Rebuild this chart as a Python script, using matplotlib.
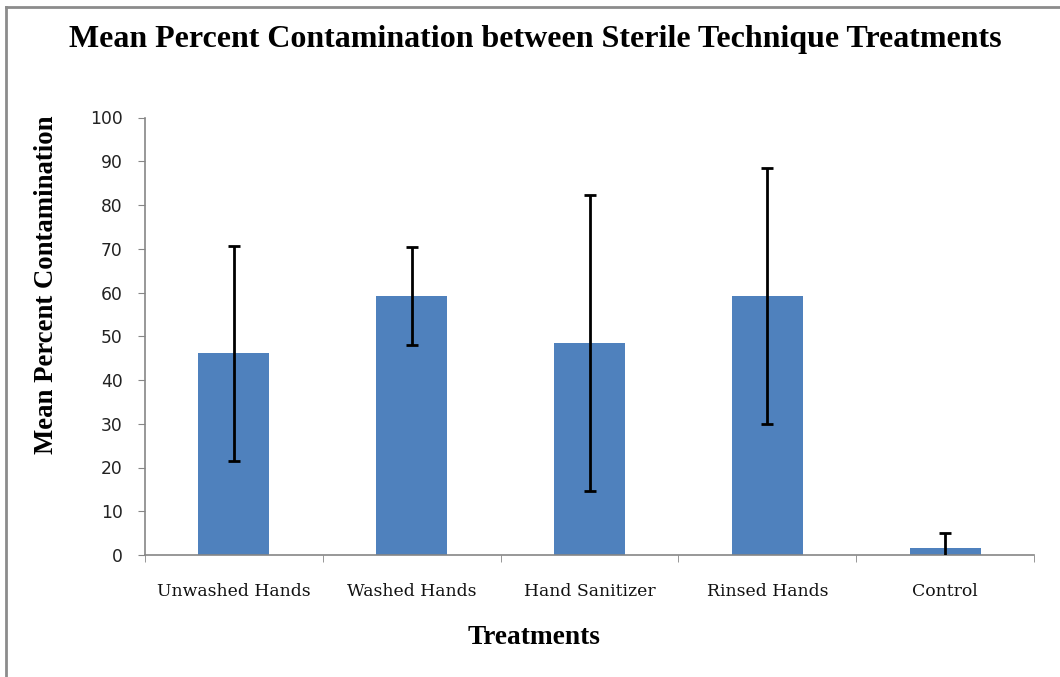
import matplotlib
matplotlib.use("Agg")
from matplotlib import pyplot as plt
from matplotlib.lines import Line2D

# data
treatments = ["Unwashed Hands", "Washed Hands", "Hand Sanitizer", "Rinsed Hands", "Control"]
mean_contam = [46.1, 59.3, 48.5, 59.2, 1.5]
err_contam = [24.6, 11.2, 33.8, 29.2, 3.5]

fig = plt.figure(figsize=(10.6, 6.77), dpi=100)
ax = fig.add_axes([145 / 1060, 122 / 677, 889 / 1060, 437.5 / 677])

pos = list(range(len(treatments)))
ax.bar(pos, mean_contam, width=0.4, color="#4F81BD", zorder=2)
ax.errorbar(pos, mean_contam, yerr=err_contam, fmt="none", ecolor="black",
            elinewidth=2, capsize=4.5, capthick=2, zorder=3)

ax.set_xlim(-0.5, len(treatments) - 0.5)
ax.set_ylim(0, 100)
ax.set_yticks(range(0, 101, 10))
ax.tick_params(axis="y", labelsize=12.3, length=5, color="#868686", pad=11,
               labelcolor="#222222")

# category labels centred, tick marks at category boundaries
ax.set_xticks(pos)
ax.set_xticklabels(treatments, family="DejaVu Serif", fontsize=12.4, color="#111111")
ax.tick_params(axis="x", length=0, pad=20)
ax.set_xticks([p - 0.5 for p in range(len(treatments) + 1)], minor=True)
ax.tick_params(axis="x", which="minor", length=5, color="#868686")

for s in ["top", "right"]:
    ax.spines[s].set_visible(False)
for s in ["left", "bottom"]:
    ax.spines[s].set_color("#868686")
    ax.spines[s].set_linewidth(1.2)

fig.text(47 / 1060, 1 - 285 / 677, "Mean Percent Contamination", family="Liberation Serif",
         fontweight="bold", fontsize=19.3, rotation=90, ha="center", va="center")
fig.text(534 / 1060, 1 - 638 / 677, "Treatments", family="Liberation Serif",
         fontweight="bold", fontsize=19.7, ha="center", va="center")

fig.text(535 / 1060, 1 - 39 / 677, "Mean Percent Contamination between Sterile Technique Treatments",
         family="Liberation Serif", fontweight="bold", fontsize=23, ha="center", va="center")

# outer frame lines (top and left only)
fig.add_artist(Line2D([6 / 1060, 1], [1 - 7 / 677, 1 - 7 / 677], color="#8c8c8c", lw=2,
                      transform=fig.transFigure))
fig.add_artist(Line2D([6 / 1060, 6 / 1060], [0, 1 - 7 / 677], color="#8c8c8c", lw=2,
                      transform=fig.transFigure))

fig.savefig("out.png", dpi=100)
